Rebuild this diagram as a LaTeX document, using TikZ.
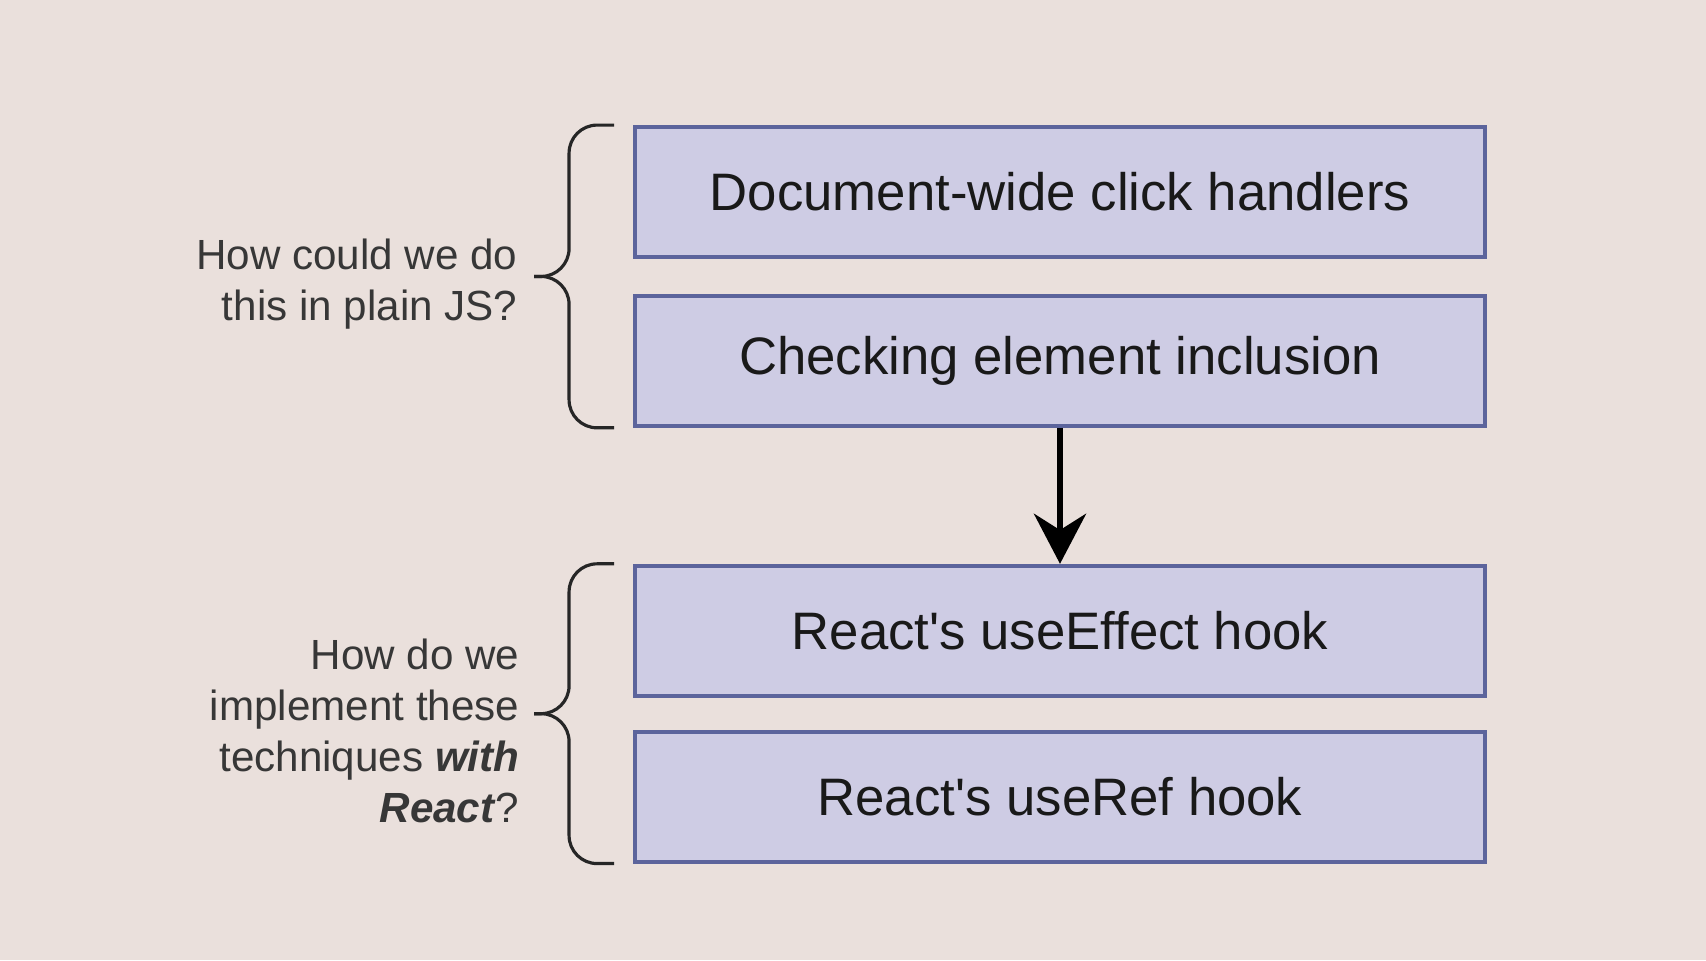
\documentclass[tikz,border=0pt]{standalone}
\usepackage{fontspec}
\setmainfont{Liberation Sans}
\usetikzlibrary{arrows.meta}
\usetikzlibrary{calc}
\usetikzlibrary{positioning}
\definecolor{screen}{RGB}{234,224,220}
\definecolor{boxfill}{RGB}{206,204,228}
\definecolor{boxline}{RGB}{92,100,156}
\definecolor{qtext}{RGB}{55,55,55}
\tikzstyle{topic} = [
    rectangle,
    draw=boxline,
    fill=boxfill,
    line width=1.1pt,
    minimum width=8.5cm,
    minimum height=1.3cm,
    inner sep=0pt,
    text centered,
    text=black!90,
    font=\fontsize{15}{18}\selectfont
]
\tikzstyle{flow}  = [
    draw,
    line width=1.8pt,
    -{Stealth[length=0.5cm,width=0.52cm]}
]
\tikzstyle{curly} = [
    draw=black!85,
    line width=0.9pt,
    rounded corners=0.28cm
]
\tikzstyle{question} = [
    anchor=east,
    align=right,
    inner sep=0pt,
    text=qtext,
    font=\fontsize{12}{14.5}\selectfont
]
\newcommand{\apos}{\textquotesingle}

\begin{document}
\begin{tikzpicture}
\useasboundingbox[fill=screen] (0,0) rectangle (17.06,-9.6);

\node[topic] (handlers)                        at (10.6,-1.92) {Document-wide click handlers};
\node[topic, below=0.35cm of handlers] (inclusion) {Checking element inclusion};
\node[topic, below=1.36cm of inclusion] (effect)   {React\apos s useEffect hook};
\node[topic, below=0.32cm of effect] (useref)      {React\apos s useRef hook};

\draw[flow] (inclusion) -- (effect);

\coordinate (jstop) at ($(handlers.north west)+(-0.19,0)$);
\coordinate (jsbot) at ($(inclusion.south west)+(-0.19,0)$);
\coordinate (jstip) at ($(jstop)!0.5!(jsbot)+(-0.8,0)$);
\draw[curly] (jstop) -- ++(-0.45,0) |- (jstip);
\draw[curly] (jstip) -| ($(jsbot)+(-0.45,0)$) -- (jsbot);

\coordinate (reacttop) at ($(effect.north west)+(-0.19,0)$);
\coordinate (reactbot) at ($(useref.south west)+(-0.19,0)$);
\coordinate (reacttip) at ($(reacttop)!0.5!(reactbot)+(-0.8,0)$);
\draw[curly] (reacttop) -- ++(-0.45,0) |- (reacttip);
\draw[curly] (reacttip) -| ($(reactbot)+(-0.45,0)$) -- (reactbot);

\node[question] (plainjs)   at ($(jstip)+(-0.16,-0.08)$)    {How could we do\\this in plain JS?};
\node[question] (withreact) at ($(reacttip)+(-0.14,-0.17)$) {How do we\\implement these\\techniques \textbf{\textit{with}}\\\textbf{\textit{React}}?};
\end{tikzpicture}
\end{document}
